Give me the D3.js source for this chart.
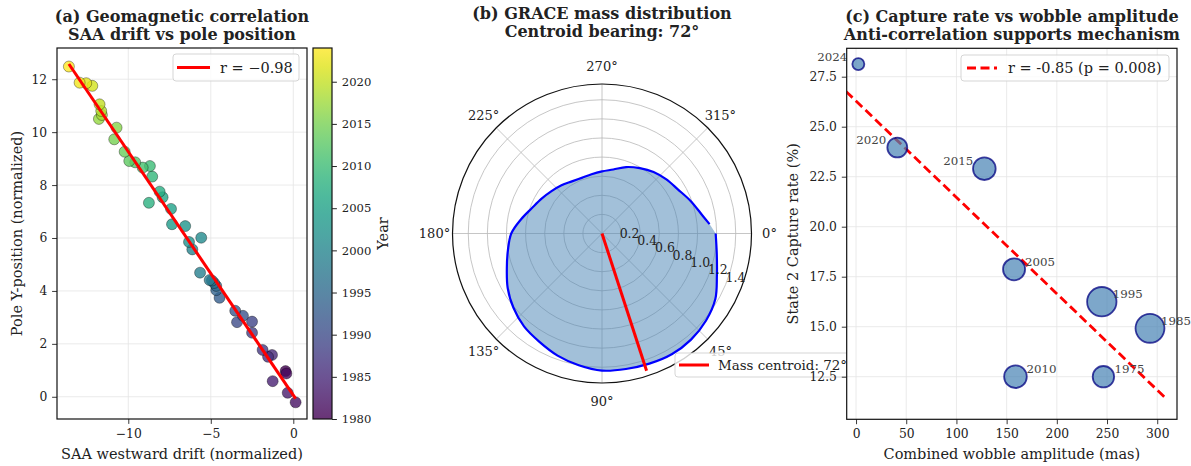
<!DOCTYPE html>
<html>
<head>
<meta charset="utf-8">
<script src="https://cdn.jsdelivr.net/npm/d3@7"></script>
<style>
  body { margin: 0; background: #fff; }
  svg { display: block; }
  text { font-family: "DejaVu Serif", serif; fill: #222; }
</style>
</head>
<body>
<svg id="fig" width="1191" height="466"></svg>
<script>
// ---------- (a) SAA drift vs pole position ----------
const yearsA = [1980,1981,1982,1983,1984,1985,1986,1987,1988,1989,1990,1991,1992,1993,1994,1995,1996,1997,1998,1999,
                2000,2001,2002,2003,2004,2005,2006,2007,2008,2009,2010,2011,2012,2013,2014,2015,2016,2017,2018,2019,
                2020,2021,2022,2023,2024];
const saaDrift = [-0.47,-0.42,0.14,-0.34,-1.25,-1.29,-1.53,-1.86,-2.50,-2.50,-3.41,-3.05,-3.52,-4.47,-4.67,-4.67,-4.80,-4.93,-5.07,-5.65,
                  -6.12,-5.58,-6.32,-6.55,-7.35,-7.41,-7.92,-8.10,-8.75,-8.55,-8.69,-9.13,-9.58,-9.94,-10.22,-10.85,-10.71,-11.78,-11.60,-11.64,
                  -11.74,-12.18,-12.55,-12.95,-13.60];
const poleY = [0.97,0.88,-0.21,0.15,0.59,1.58,1.51,1.77,2.42,2.84,2.82,3.06,3.25,3.74,4.03,4.19,4.30,4.39,4.41,4.69,
               5.57,6.01,5.85,6.45,6.52,7.10,7.54,7.75,7.33,8.32,8.72,8.66,8.86,8.91,9.26,9.73,10.17,10.50,10.65,10.80,
               11.05,11.75,11.85,11.87,12.48];
const ticksAX = [-10,-5,0];
const ticksAY = [0,2,4,6,8,10,12];
const colorbarTicks = [1980,1985,1990,1995,2000,2005,2010,2015,2020];

// ---------- (b) GRACE mass distribution ----------
const thetaDeg = [0,10,20,30,40,50,60,70,80,90,100,110,120,130,140,150,160,170,180,190,200,210,220,230,240,250,260,270,280,290,300,310,320,330,340,350,355];
const massR = [1.19,1.22,1.28,1.37,1.42,1.45,1.46,1.45,1.44,1.435,1.40,1.36,1.31,1.27,1.21,1.14,1.06,1.00,0.95,0.86,0.78,0.73,0.69,0.66,0.63,0.62,0.63,0.65,0.68,0.74,0.79,0.84,0.88,0.92,0.99,1.07,1.13];
const centroidDeg = 72;
const centroidR = 1.51;
const rTicks = [0.2,0.4,0.6,0.8,1.0,1.2,1.4];
const thetaTicks = [0,45,90,135,180,225,270,315];

// ---------- (c) capture rate vs wobble ----------
const epochs = ["2024","2020","2015","2005","1995","1985","2010","1975"];
const wobble = [2.3,41.1,127.8,157.4,244.8,292.8,158.8,246.4];
const captureRate = [28.13,23.96,22.9,17.87,16.25,14.92,12.5,12.5];
const bubbleWeight = [0.16,0.44,0.57,0.54,0.96,0.93,0.57,0.51];
const labelLeft = ["2024","2020","2015"];
const ticksCX = [0,50,100,150,200,250,300];
const ticksCY = [12.5,15.0,17.5,20.0,22.5,25.0,27.5];

const svg = d3.select("#fig");
const TICK_FS = 12.3, LABEL_FS = 14.5, TITLE_FS = 16, LEGEND_FS = 14.5;
const TICK_LEN = 4.9, TICK_PAD = 4.9;
const gridColor = "#e4e4e4";

function title(cx, y1, l1, l2) {
  const t = svg.append("text").attr("text-anchor","middle").attr("font-weight","bold").attr("font-size",TITLE_FS);
  t.append("tspan").attr("x",cx).attr("y",y1).text(l1);
  t.append("tspan").attr("x",cx).attr("y",y1+18.4).text(l2);
}

function cartesian(x, y, box, xt, yt, xfmt, yfmt) {
  const g = svg.append("g");
  g.selectAll(".gx").data(xt).join("line")
    .attr("x1",d=>x(d)).attr("x2",d=>x(d)).attr("y1",box.t).attr("y2",box.b)
    .attr("stroke",gridColor).attr("stroke-width",0.8);
  g.selectAll(".gy").data(yt).join("line")
    .attr("y1",d=>y(d)).attr("y2",d=>y(d)).attr("x1",box.l).attr("x2",box.r)
    .attr("stroke",gridColor).attr("stroke-width",0.8);
  const xa = svg.append("g").attr("transform",`translate(0,${box.b})`)
    .call(d3.axisBottom(x).tickValues(xt).tickFormat(xfmt).tickSize(TICK_LEN).tickPadding(TICK_PAD));
  const ya = svg.append("g").attr("transform",`translate(${box.l},0)`)
    .call(d3.axisLeft(y).tickValues(yt).tickFormat(yfmt).tickSize(TICK_LEN).tickPadding(TICK_PAD));
  [xa, ya].forEach(a => {
    a.select(".domain").remove();
    a.selectAll("text").attr("font-size",TICK_FS).attr("font-family","DejaVu Serif").attr("fill","#222");
    a.selectAll("line").attr("stroke","#222").attr("stroke-width",0.9);
  });
  return g;
}

function spine(box) {
  svg.append("rect").attr("x",box.l).attr("y",box.t).attr("width",box.r-box.l).attr("height",box.b-box.t)
    .attr("fill","none").attr("stroke","#111").attr("stroke-width",1.2);
}

function legendBox(x, y, w, h) {
  svg.append("rect").attr("x",x).attr("y",y).attr("width",w).attr("height",h).attr("rx",3)
    .attr("fill","#fff").attr("fill-opacity",0.8).attr("stroke","#d0d0d0").attr("stroke-width",0.9);
}

// ================= Panel (a) =================
{
  const box = {l:57, r:307, t:48, b:419};
  const x = d3.scaleLinear().domain([-14.32, 0.83]).range([box.l, box.r]);
  const y = d3.scaleLinear().domain([-0.84, 13.18]).range([box.b, box.t]);
  const color = d3.scaleSequential(d3.interpolateViridis).domain([1980, 2024]);
  cartesian(x, y, box, ticksAX, ticksAY, d3.format("d"), d3.format("d"));

  const pts = yearsA.map((yr,i)=>({yr, x:saaDrift[i], y:poleY[i]}));
  svg.append("g").selectAll("circle").data(pts).join("circle")
    .attr("cx",d=>x(d.x)).attr("cy",d=>y(d.y)).attr("r",5.5)
    .attr("fill",d=>color(d.yr)).attr("fill-opacity",0.8)
    .attr("stroke","#000").attr("stroke-opacity",0.7).attr("stroke-width",0.5);

  // least-squares fit
  const mx = d3.mean(saaDrift), my = d3.mean(poleY);
  const sxy = d3.sum(saaDrift.map((v,i)=>(v-mx)*(poleY[i]-my)));
  const sxx = d3.sum(saaDrift.map(v=>(v-mx)*(v-mx)));
  const slope = sxy/sxx, icpt = my - slope*mx;
  const [x0, x1] = d3.extent(saaDrift);
  svg.append("line").attr("x1",x(x0)).attr("y1",y(icpt+slope*x0)).attr("x2",x(x1)).attr("y2",y(icpt+slope*x1))
    .attr("stroke","red").attr("stroke-width",3);

  spine(box);
  legendBox(173, 54, 126, 27);
  svg.append("line").attr("x1",177).attr("x2",210).attr("y1",67.5).attr("y2",67.5).attr("stroke","red").attr("stroke-width",3);
  svg.append("text").attr("x",220).attr("y",72.5).attr("font-size",LEGEND_FS).text("r = \u22120.98");

  title((box.l+box.r)/2, 21.5, "(a) Geomagnetic correlation", "SAA drift vs pole position");
  svg.append("text").attr("x",(box.l+box.r)/2).attr("y",458.5).attr("text-anchor","middle").attr("font-size",LABEL_FS)
    .text("SAA westward drift (normalized)");
  svg.append("text").attr("transform",`translate(22,${(box.t+box.b)/2}) rotate(-90)`).attr("text-anchor","middle")
    .attr("font-size",LABEL_FS).text("Pole Y-position (normalized)");

  // colorbar
  const cb = {l:313, r:332, t:48, b:419};
  const defs = svg.append("defs");
  const grad = defs.append("linearGradient").attr("id","viridisGrad").attr("x1",0).attr("x2",0).attr("y1",1).attr("y2",0);
  d3.range(0,1.0001,0.05).forEach(t => grad.append("stop").attr("offset",t).attr("stop-color",d3.interpolateViridis(t)));
  svg.append("rect").attr("x",cb.l).attr("y",cb.t).attr("width",cb.r-cb.l).attr("height",cb.b-cb.t)
    .attr("fill","url(#viridisGrad)").attr("fill-opacity",0.8);
  svg.append("rect").attr("x",cb.l).attr("y",cb.t).attr("width",cb.r-cb.l).attr("height",cb.b-cb.t)
    .attr("fill","none").attr("stroke","#111").attr("stroke-width",1.2);
  const cy = d3.scaleLinear().domain([1980, 2024]).range([cb.b, cb.t]);
  const ca = svg.append("g").attr("transform",`translate(${cb.r},0)`)
    .call(d3.axisRight(cy).tickValues(colorbarTicks).tickFormat(d3.format("d")).tickSize(TICK_LEN).tickPadding(TICK_PAD));
  ca.select(".domain").remove();
  ca.selectAll("text").attr("font-size",11.6).attr("font-family","DejaVu Serif").attr("fill","#222");
  ca.selectAll("line").attr("stroke","#222");
  svg.append("text").attr("transform",`translate(388,${(cb.t+cb.b)/2}) rotate(-90)`).attr("text-anchor","middle")
    .attr("font-size",LEGEND_FS).text("Year");
}

// ================= Panel (b) =================
{
  const cx = 602, cy = 233.5, R = 149.5;
  const r = d3.scaleLinear().domain([0, 1.565]).range([0, R]);
  const rad = d => d*Math.PI/180;
  const g = svg.append("g").attr("transform",`translate(${cx},${cy})`);

  g.selectAll(".rg").data(rTicks).join("circle").attr("r",d=>r(d))
    .attr("fill","none").attr("stroke","#b8b8b8").attr("stroke-width",0.8);
  g.selectAll(".tg").data(thetaTicks).join("line")
    .attr("x1",0).attr("y1",0).attr("x2",d=>R*Math.cos(rad(d))).attr("y2",d=>R*Math.sin(rad(d)))
    .attr("stroke","#b8b8b8").attr("stroke-width",0.8);

  const pts = thetaDeg.map((t,i)=>({t, v:massR[i]}));
  const radial = d3.lineRadial().angle(d=>rad(d.t)+Math.PI/2).radius(d=>r(d.v)).curve(d3.curveCatmullRom.alpha(0.5));
  g.append("path").attr("d", radial(pts)+"Z").attr("fill","steelblue").attr("fill-opacity",0.5).attr("stroke","none");
  g.append("path").attr("d", radial(pts)).attr("fill","none").attr("stroke","#0000ff").attr("stroke-width",2.2);

  g.append("line").attr("x1",0).attr("y1",0)
    .attr("x2",r(centroidR)*Math.cos(rad(centroidDeg))).attr("y2",r(centroidR)*Math.sin(rad(centroidDeg)))
    .attr("stroke","red").attr("stroke-width",3);

  g.append("circle").attr("r",R).attr("fill","none").attr("stroke","#111").attr("stroke-width",1.2);

  g.selectAll(".tl").data(thetaTicks).join("text")
    .attr("x",d=>(R+18)*Math.cos(rad(d))).attr("y",d=>(R+18)*Math.sin(rad(d))+4.5)
    .attr("text-anchor","middle").attr("font-size",13).text(d=>d+"\u00b0");
  g.selectAll(".rl").data(rTicks).join("text")
    .attr("x",d=>r(d)*Math.cos(rad(22.5))).attr("y",d=>r(d)*Math.sin(rad(22.5))-3)
    .attr("font-size",12.5).text(d=>d3.format(".1f")(d));

  title(cx, 18.5, "(b) GRACE mass distribution", "Centroid bearing: 72\u00b0");

  legendBox(675, 353, 190, 24);
  svg.append("line").attr("x1",679).attr("x2",709).attr("y1",365).attr("y2",365).attr("stroke","red").attr("stroke-width",3);
  svg.append("text").attr("x",718).attr("y",370).attr("font-size",13.4).text("Mass centroid: 72\u00b0");
}

// ================= Panel (c) =================
{
  const box = {l:846.7, r:1177, t:48.3, b:419.3};
  const x = d3.scaleLinear().domain([-9.3, 319.7]).range([box.l, box.r]);
  const y = d3.scaleLinear().domain([10.37, 28.92]).range([box.b, box.t]);
  const size = d3.scaleSqrt().domain([0,1]).range([0,15]);

  // axes background covers whatever of the neighbouring legend extends into this panel
  svg.append("rect").attr("x",box.l).attr("y",box.t).attr("width",box.r-box.l).attr("height",box.b-box.t).attr("fill","#fff");
  cartesian(x, y, box, ticksCX, ticksCY, d3.format("d"), d3.format(".1f"));

  svg.append("clipPath").attr("id","clipC").append("rect")
    .attr("x",box.l).attr("y",box.t).attr("width",box.r-box.l).attr("height",box.b-box.t);

  const mx = d3.mean(wobble), my = d3.mean(captureRate);
  const sxy = d3.sum(wobble.map((v,i)=>(v-mx)*(captureRate[i]-my)));
  const sxx = d3.sum(wobble.map(v=>(v-mx)*(v-mx)));
  const slope = sxy/sxx, icpt = my - slope*mx;
  const fx0 = -10, fx1 = 310;
  svg.append("line").attr("clip-path","url(#clipC)")
    .attr("x1",x(fx0)).attr("y1",y(icpt+slope*fx0)).attr("x2",x(fx1)).attr("y2",y(icpt+slope*fx1))
    .attr("stroke","red").attr("stroke-width",2.8).attr("stroke-dasharray","9,4.5");

  const pts = epochs.map((e,i)=>({e, x:wobble[i], y:captureRate[i], w:bubbleWeight[i]}));
  svg.append("g").selectAll("circle").data(pts).join("circle")
    .attr("cx",d=>x(d.x)).attr("cy",d=>y(d.y)).attr("r",d=>size(d.w))
    .attr("fill","steelblue").attr("fill-opacity",0.7)
    .attr("stroke","navy").attr("stroke-opacity",0.75).attr("stroke-width",1.8);

  svg.append("g").selectAll("text").data(pts).join("text")
    .attr("x",d=>x(d.x) + (labelLeft.includes(d.e) ? -11 : 11))
    .attr("y",d=>y(d.y) - 3.5)
    .attr("text-anchor",d=>labelLeft.includes(d.e) ? "end" : "start")
    .attr("font-size",11.8).style("fill","#444").text(d=>d.e);

  spine(box);
  legendBox(961, 55, 208, 26);
  svg.append("line").attr("x1",967).attr("x2",997).attr("y1",68).attr("y2",68)
    .attr("stroke","red").attr("stroke-width",2.8).attr("stroke-dasharray","9,4.5");
  svg.append("text").attr("x",1008).attr("y",73).attr("font-size",LEGEND_FS).text("r = -0.85 (p = 0.008)");

  title((box.l+box.r)/2, 21.5, "(c) Capture rate vs wobble amplitude", "Anti-correlation supports mechanism");
  svg.append("text").attr("x",(box.l+box.r)/2).attr("y",458.5).attr("text-anchor","middle").attr("font-size",LABEL_FS)
    .text("Combined wobble amplitude (mas)");
  svg.append("text").attr("transform",`translate(798,${(box.t+box.b)/2}) rotate(-90)`).attr("text-anchor","middle")
    .attr("font-size",LABEL_FS).text("State 2 Capture rate (%)");
}
</script>
</body>
</html>
